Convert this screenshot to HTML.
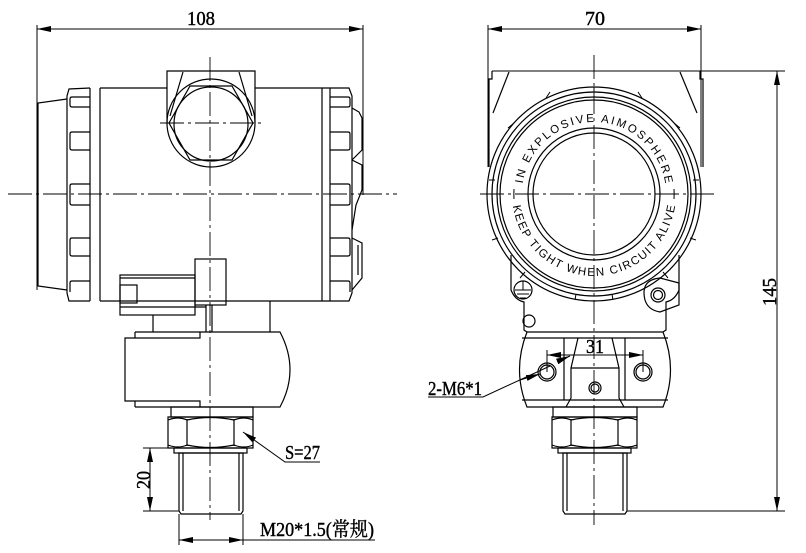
<!DOCTYPE html>
<html><head><meta charset="utf-8"><style>
html,body{margin:0;padding:0;background:#fff;}
svg{display:block;}
.d{font-family:"Liberation Serif","Noto Serif CJK SC",serif;font-size:20px;fill:#000;stroke:#000;stroke-width:0.4;}
.a{font-family:"Liberation Sans",sans-serif;font-size:11.5px;fill:#000;}
</style></head><body>
<svg width="806" height="553" viewBox="0 0 806 553" xmlns="http://www.w3.org/2000/svg">
<defs>
<marker id="ar" viewBox="0 0 14 6" refX="14" refY="3" markerWidth="14" markerHeight="6" orient="auto-start-reverse" markerUnits="userSpaceOnUse"><path d="M0,0 L14,3 L0,6 z" fill="#000"/></marker>
<path id="topArc" d="M522,194 A72,72 0 0 1 666,194"/>
<path id="botArc" d="M511,194 A83,83 0 0 0 677,194"/>
</defs>
<g fill="none" stroke="#000" stroke-width="1.2">
<line x1="37" y1="25" x2="37" y2="290" stroke-width="1"/>
<line x1="363" y1="25" x2="363" y2="195" stroke-width="1"/>
<line x1="37" y1="29" x2="363" y2="29" stroke-width="1" marker-start="url(#ar)" marker-end="url(#ar)"/>
<line x1="8" y1="194" x2="397" y2="194" stroke-width="0.9" stroke-dasharray="24,4,3,4"/>
<line x1="210" y1="57" x2="210" y2="520" stroke-width="0.9" stroke-dasharray="24,4,3,4"/>
<line x1="160" y1="123" x2="263" y2="123" stroke-width="0.9" stroke-dasharray="24,4,3,4"/>
<line x1="100" y1="88" x2="167" y2="88"/>
<line x1="255" y1="88" x2="322" y2="88"/>
<line x1="100" y1="301" x2="322" y2="301"/>
<line x1="100" y1="88" x2="100" y2="301"/>
<line x1="90" y1="88" x2="90" y2="301"/>
<line x1="322" y1="88" x2="322" y2="301"/>
<line x1="330" y1="88" x2="330" y2="301"/>
<path d="M90,88 L69,89 L67,96 L67,293 L69,301 L90,301"/>
<path d="M67,99 L38,103 L38,286 L67,290"/>
<path d="M90,97 H72 Q70,97 70,99 V105 Q70,107 72,107 H90"/>
<path d="M90,132 H72 Q70,132 70,134 V148 Q70,150 72,150 H90"/>
<path d="M90,184 H72 Q70,184 70,186 V203 Q70,205 72,205 H90"/>
<path d="M90,238 H72 Q70,238 70,240 V254 Q70,256 72,256 H90"/>
<path d="M90,281 H72 Q70,281 70,283 V292"/>
<path d="M322,88 L349,88 L352,96 L352,293 L349,301 L322,301"/>
<path d="M330,97 H348 Q350,97 350,99 V105 Q350,107 348,107 H330"/>
<path d="M330,132 H348 Q350,132 350,134 V148 Q350,150 348,150 H330"/>
<path d="M330,184 H348 Q350,184 350,186 V203 Q350,205 348,205 H330"/>
<path d="M330,238 H348 Q350,238 350,240 V254 Q350,256 348,256 H330"/>
<path d="M330,281 H348 Q350,281 350,283 V292"/>
<path d="M352,108 L359,112 L362,118 L362,150 L352,160"/>
<path d="M352,160 L362,165 L362,190 L356,205 L352,230"/>
<path d="M352,238 L362,243 L362,278 L352,290"/>
<path d="M358,245 L358,275"/>
<path d="M167,123 V71 H255 V123"/>
<line x1="183" y1="72" x2="170" y2="116"/>
<line x1="239" y1="72" x2="252" y2="116"/>
<circle cx="211" cy="123" r="44"/>
<circle cx="211" cy="124" r="37"/>
<polygon points="169,123 190,86 232,86 253,123 232,160 190,160"/>
<rect x="120" y="275" width="75" height="40"/>
<line x1="120" y1="278" x2="195" y2="278"/>
<rect x="120" y="285" width="17" height="18"/>
<line x1="120" y1="307" x2="206" y2="307"/>
<rect x="195" y="259" width="31" height="46"/>
<line x1="206" y1="305" x2="206" y2="332"/>
<line x1="212" y1="305" x2="212" y2="332"/>
<line x1="153" y1="315" x2="153" y2="332"/>
<line x1="270" y1="301" x2="270" y2="332"/>
<path d="M125,338 H200 V332 H280 Q300,370 280,407 H200 V401 H125 Z"/>
<line x1="135" y1="332" x2="200" y2="332"/>
<line x1="135" y1="332" x2="135" y2="338"/>
<line x1="135" y1="401" x2="135" y2="407"/>
<line x1="135" y1="407" x2="200" y2="407"/>
<rect x="171" y="407" width="82" height="10"/>
<path d="M168,417 H253 V448 H168 Z"/>
<path d="M187,419 V446 M234,419 V446"/>
<path d="M168,420 Q178,416 187,420 Q210,415 234,420 Q244,416 253,420"/>
<path d="M168,445 Q178,449 187,445 Q210,450 234,445 Q244,449 253,445"/>
<rect x="174" y="448" width="73" height="5"/>
<path d="M179,453 H243 V511 L241,514 H181 L179,511 Z"/>
<line x1="183" y1="453" x2="183" y2="511"/>
<line x1="239" y1="453" x2="239" y2="511"/>
<line x1="143" y1="448" x2="174" y2="448" stroke-width="1"/>
<line x1="143" y1="511" x2="179" y2="511" stroke-width="1"/>
<line x1="150" y1="448" x2="150" y2="511" stroke-width="1" marker-start="url(#ar)" marker-end="url(#ar)"/>
<line x1="179" y1="514" x2="179" y2="545" stroke-width="1"/>
<line x1="243" y1="514" x2="243" y2="545" stroke-width="1"/>
<line x1="179" y1="540" x2="243" y2="540" stroke-width="1" marker-start="url(#ar)" marker-end="url(#ar)"/>
<line x1="243" y1="540" x2="375" y2="540" stroke-width="1"/>
<polyline points="320,462 285,462 243,432" stroke-width="1" marker-end="url(#ar)"/>

<line x1="488" y1="25" x2="488" y2="167" stroke-width="1"/>
<line x1="701" y1="25" x2="701" y2="167" stroke-width="1"/>
<line x1="488" y1="29" x2="701" y2="29" stroke-width="1" marker-start="url(#ar)" marker-end="url(#ar)"/>
<line x1="594" y1="55" x2="594" y2="525" stroke-width="0.9" stroke-dasharray="24,4,3,4"/>
<line x1="480" y1="194" x2="714" y2="194" stroke-width="0.9" stroke-dasharray="24,4,3,4"/>
<line x1="492" y1="71" x2="785" y2="71" stroke-width="1"/>
<path d="M492,71 V79 H489 V167"/>
<path d="M700,71 V79 H703 V167"/>
<line x1="509" y1="72" x2="493" y2="113"/>
<line x1="680" y1="72" x2="697" y2="113"/>
<circle cx="594" cy="194" r="107"/>
<circle cx="594" cy="194" r="102"/>
<circle cx="594" cy="194" r="97"/>
<circle cx="594" cy="194" r="94"/>
<circle cx="594" cy="194" r="66"/>
<circle cx="594" cy="194" r="61"/>
<g stroke-width="1">
<line x1="594" y1="87" x2="594" y2="92"/>
<path d="M546,98 L550,92 M642,98 L638,92 M508,128 L514,123 M680,128 L674,123 M489,180 L495,180 M699,180 L693,180 M492,240 L498,238 M696,240 L690,238 M520,278 L525,272 M668,278 L663,272 M575,300 L576,294 M613,300 L612,294"/>
</g>
<path d="M514,199 A80,80 0 0 1 514,189" stroke-width="1"/>
<path d="M674,189 A80,80 0 0 1 674,199" stroke-width="1"/>
<path d="M511,255 V290 Q515,300 524,302 V330 L527,332"/>
<path d="M679,255 V290 Q675,300 666,302 V330 L663,332"/>
<circle cx="523" cy="290" r="9"/>
<path d="M523,281 V290 M515,290 H531 M517,294 H529 M520,298 H526" stroke-width="1"/>
<path d="M645,300 Q640,280 660,278 L679,283 V305 L660,312 Q648,310 645,300"/>
<circle cx="658" cy="295" r="7"/>
<circle cx="658" cy="295" r="4.5"/>
<circle cx="529" cy="321" r="6"/>
<path d="M527,332 H663 Q678,370 663,407 H527 Q512,370 527,332 Z"/>
<line x1="522" y1="338" x2="668" y2="338"/>
<line x1="522" y1="400" x2="668" y2="400"/>
<line x1="564" y1="338" x2="564" y2="400"/>
<line x1="625" y1="338" x2="625" y2="400"/>
<path d="M578,338 L571,368 V398 L566,407"/>
<path d="M612,338 L619,368 V398 L624,407"/>
<line x1="571" y1="368" x2="619" y2="368"/>
<circle cx="547" cy="372" r="9"/>
<circle cx="547" cy="372" r="7"/>
<circle cx="643" cy="372" r="9"/>
<circle cx="643" cy="372" r="7"/>
<circle cx="595" cy="388" r="6"/>
<circle cx="595" cy="388" r="4"/>
<line x1="547" y1="350" x2="547" y2="372" stroke-width="1"/>
<line x1="643" y1="350" x2="643" y2="372" stroke-width="1"/>
<line x1="547" y1="355" x2="643" y2="355" stroke-width="1" marker-start="url(#ar)" marker-end="url(#ar)"/>
<polyline points="428,397 483,397 550,366" stroke-width="1"/>
<line x1="520" y1="380" x2="540" y2="374" stroke-width="1" marker-end="url(#ar)"/>
<line x1="563" y1="359" x2="570" y2="356" stroke-width="1" marker-end="url(#ar)"/>
<rect x="553" y="407" width="84" height="10"/>
<path d="M552,417 H637 V448 H552 Z"/>
<path d="M571,419 V446 M618,419 V446"/>
<path d="M552,420 Q562,416 571,420 Q594,415 618,420 Q628,416 637,420"/>
<path d="M552,445 Q562,449 571,445 Q594,450 618,445 Q628,449 637,445"/>
<rect x="558" y="448" width="73" height="5"/>
<path d="M563,453 H627 V511 L625,514 H565 L563,511 Z"/>
<line x1="567" y1="453" x2="567" y2="511"/>
<line x1="623" y1="453" x2="623" y2="511"/>
<line x1="627" y1="511" x2="785" y2="511" stroke-width="1"/>
<line x1="777" y1="71" x2="777" y2="511" stroke-width="1" marker-start="url(#ar)" marker-end="url(#ar)"/>
</g>
<text class="d" x="187" y="25" textLength="28" lengthAdjust="spacingAndGlyphs">108</text>
<text class="d" x="585" y="25" textLength="20" lengthAdjust="spacingAndGlyphs">70</text>
<text class="d" x="586" y="353" textLength="18" lengthAdjust="spacingAndGlyphs">31</text>
<text class="d" x="285" y="459" textLength="35" lengthAdjust="spacingAndGlyphs">S=27</text>
<text class="d" x="260" y="536" textLength="114" lengthAdjust="spacingAndGlyphs">M20*1.5(常规)</text>
<text class="d" x="428" y="395" textLength="54" lengthAdjust="spacingAndGlyphs">2-M6*1</text>
<text class="d" transform="translate(150,489) rotate(-90)" textLength="18" lengthAdjust="spacingAndGlyphs">20</text>
<text class="d" transform="translate(776,306) rotate(-90)" textLength="28" lengthAdjust="spacingAndGlyphs">145</text>
<text class="a"><textPath href="#topArc" startOffset="50%" text-anchor="middle" textLength="205" lengthAdjust="spacing">IN EXPLOSIVE AIMOSPHERE</textPath></text>
<text class="a" dy="-1"><textPath href="#botArc" startOffset="50%" text-anchor="middle" textLength="236" lengthAdjust="spacing">KEEP TIGHT WHEN CIRCUIT ALIVE</textPath></text>
</svg>
</body></html>
